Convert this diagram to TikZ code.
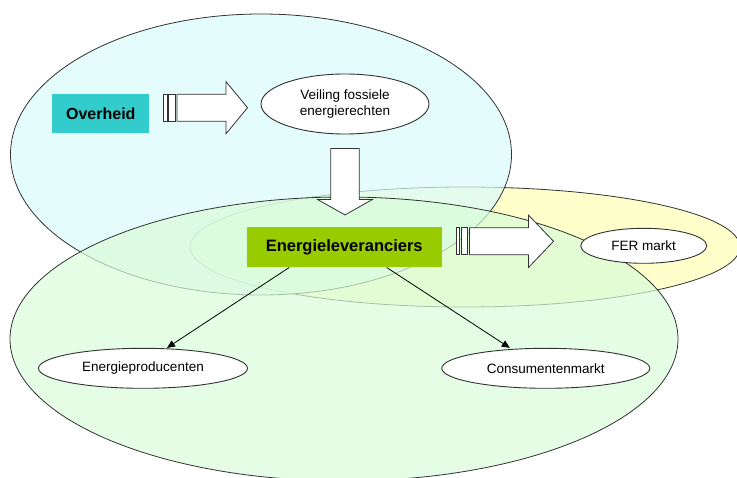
\documentclass[tikz,border=0pt]{standalone}
\usepackage{fontspec}
\setmainfont{Liberation Sans}
\usetikzlibrary{shapes.geometric,arrows.meta,calc}

\definecolor{zonecyan}{RGB}{216,251,251}
\definecolor{zonegreen}{RGB}{216,252,216}
\definecolor{zoneyellow}{RGB}{255,255,204}
\definecolor{govcyan}{RGB}{51,204,204}
\definecolor{levgreen}{RGB}{153,204,0}
\definecolor{edge}{RGB}{50,50,50}

% striped block arrow pointing right: #1 start point, #2 total length, #3 head length
\newcommand\stripearrow[3]{%
  \begin{scope}[shift={#1}]
    \draw[blockarrow] (0,-13.5) rectangle (3.8,13.5);
    \draw[blockarrow] (5,-13.5) rectangle (11.5,13.5);
    \draw[blockarrow] (13.5,-13.5) -- ({#2-#3},-13.5) -- ({#2-#3},-26.2)
      -- (#2,0) -- ({#2-#3},26.2) -- ({#2-#3},13.5) -- (13.5,13.5) -- cycle;
  \end{scope}}

\begin{document}
\begin{tikzpicture}[x=1pt,y=-1pt,
  zone/.style={draw=edge,line width=0.8pt,fill opacity=0.7},
  labelell/.style={ellipse,draw=edge,fill=white,line width=0.9pt,inner sep=0pt,
    align=center,font=\fontsize{13.5}{15.5}\selectfont},
  titlebox/.style={rectangle,inner sep=0pt,font=\bfseries},
  blockarrow/.style={draw=edge,fill=white,line width=0.8pt,line join=miter},
  link/.style={draw=black,line width=0.8pt,-{Triangle[length=8pt,width=7pt]}}]
\useasboundingbox (0,0) rectangle (737,478);

% overlapping zones
\path[zone,fill=zoneyellow,fill opacity=1] (465,247) ellipse [x radius=275pt,y radius=60pt];
\path[zone,fill=zonecyan] (261,154.5) ellipse [x radius=250.5pt,y radius=140.5pt];
\path[zone,fill=zonegreen] (344,339) ellipse [x radius=334pt,y radius=142pt];

% actors and markets
\node[titlebox,fill=govcyan,minimum width=97pt,minimum height=39.3pt,
  font=\bfseries\fontsize{16}{18}\selectfont] (ovh) at (100.8,113.7) {Overheid};
\node[labelell,minimum width=168pt,minimum height=60pt] (veil) at (345,104)
  {Veiling fossiele\\energierechten};
\node[titlebox,fill=levgreen,minimum width=195pt,minimum height=40pt,
  font=\bfseries\fontsize{16.5}{18}\selectfont] (lev) at (344.2,247.3) {Energieleveranciers};
\node[labelell,minimum width=126pt,minimum height=35pt] (fer) at (643.7,245.8) {FER markt};
\node[labelell,minimum width=209pt,minimum height=40pt] (prod) at (143,368.3) {Energieproducenten};
\node[labelell,minimum width=208pt,minimum height=40pt] (cons) at (545.8,368.3) {Consumentenmarkt};

% block arrows
\stripearrow{($(ovh.east)+(14,-6)$)}{84}{21.6}
\stripearrow{($(lev.east)+(14,-6)$)}{97.6}{25}
\begin{scope}[shift={($(veil.south)+(0,14)$)}]
  \draw[blockarrow] (-14.2,0) -- (14.2,0) -- (14.2,51) -- (27.5,51) -- (0,66.5)
    -- (-27.5,51) -- (-14.2,51) -- cycle;
\end{scope}

% supply links
\draw[link] ($(lev.south)+(-55,0)$) -- ($(prod.north)+(24,0)$);
\draw[link] ($(lev.south)+(42.5,0)$) -- ($(cons.north)+(-36,0)$);
\end{tikzpicture}
\end{document}
